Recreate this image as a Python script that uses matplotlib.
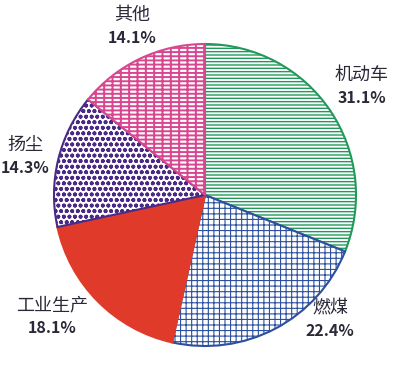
import matplotlib
matplotlib.use('Agg')
import matplotlib.pyplot as plt

plt.rcParams['font.family'] = ['Noto Sans CJK SC', 'DejaVu Sans']

categories = ['机动车', '燃煤', '工业生产', '扬尘', '其他']
shares = [31.1, 22.4, 18.1, 14.3, 14.1]
pct_labels = ['31.1%', '22.4%', '18.1%', '14.3%', '14.1%']

face_colors = ['white', 'white', '#e03a2b', 'white', 'white']
edge_colors = ['#22995a', '#2c4f9e', '#e03a2b', '#4a2a86', '#d8468f']
hatches = ['-----', '+++', '', 'ooo', '----||']
hatch_lws = [1.0, 0.8, 0.5, 1.2, 1.4]

# label centre positions in figure pixels (x, y from top)
label_px = [(362, 75), (330, 308), (52, 305), (25, 145), (132, 15)]
line_gap = 23

W, H = 400, 365
fig = plt.figure(figsize=(W / 100, H / 100), dpi=100)
cx, cy, r = 205, 195, 151
ax = fig.add_axes([(cx - r) / W, (H - cy - r) / H, 2 * r / W, 2 * r / H])

wedges, _ = ax.pie(shares, startangle=90, counterclock=False,
                   colors=face_colors, radius=1.0,
                   wedgeprops=dict(linewidth=1.5))
for w, ec, h, hl in zip(wedges, edge_colors, hatches, hatch_lws):
    w.set_edgecolor(ec)
    w.set_hatch(h)
    try:
        w.set_hatch_linewidth(hl)
    except AttributeError:
        pass
ax.set_xlim(-1.0, 1.0)
ax.set_ylim(-1.0, 1.0)
ax.axis('off')

text_color = '#2b2838'
for name, pct, (px, py) in zip(categories, pct_labels, label_px):
    fig.text(px / W, 1 - py / H, name, ha='center', va='center',
             fontsize=13, fontweight='medium', color=text_color)
    fig.text(px / W, 1 - (py + line_gap) / H, pct, ha='center', va='center',
             fontsize=11.5, fontweight='bold', color=text_color)

fig.savefig('out.png', dpi=100)
